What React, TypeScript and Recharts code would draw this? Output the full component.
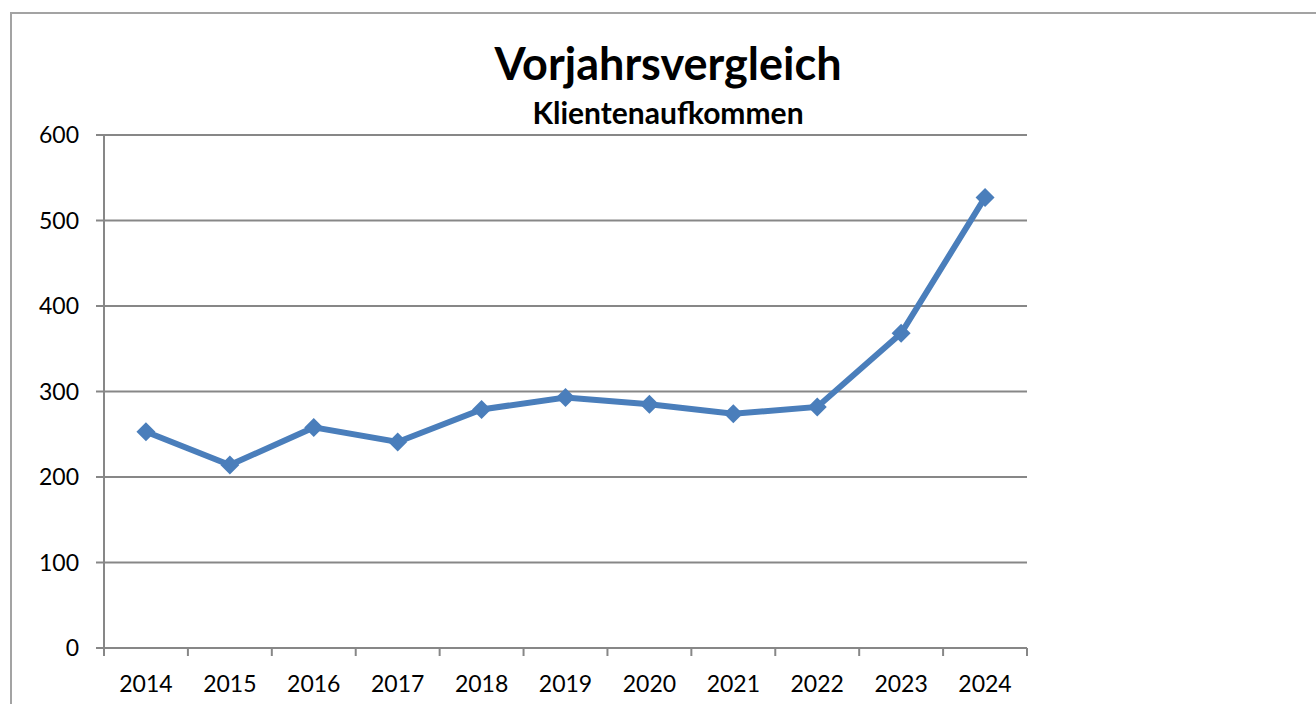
import { CartesianGrid, Line, LineChart, XAxis, YAxis } from "recharts";

const years = ["2014", "2015", "2016", "2017", "2018", "2019", "2020", "2021", "2022", "2023", "2024"];
const clients = [253, 214, 258, 241, 279, 293, 285, 274, 282, 368, 527];
const yTicks = [0, 100, 200, 300, 400, 500, 600];

const data = years.map((year, i) => ({ year, clients: clients[i] }));

const W = 1316;
const H = 704;
const MARGIN = { top: 135, right: 289, bottom: 0, left: 0 };
const Y_AXIS_W = 104;
const X_AXIS_H = 56;
const PLOT_W = W - MARGIN.left - MARGIN.right - Y_AXIS_W;
const BAND = PLOT_W / years.length;

const FONT = "Lato, 'Open Sans', sans-serif";
const GRID = "#878787";
const BLUE = "#4a7ebb";

function Diamond({ cx, cy }: any) {
  if (cx == null || cy == null) return null;
  const r = 9.5;
  return (
    <path
      d={`M${cx},${cy - r} L${cx + r},${cy} L${cx},${cy + r} L${cx - r},${cy} Z`}
      fill={BLUE}
      stroke="none"
    />
  );
}

function YearTick({ x, y, payload, index }: any) {
  const left = x - BAND / 2;
  const right = x + BAND / 2;
  return (
    <g>
      <line x1={left} x2={left} y1={y} y2={y + 8} stroke={GRID} strokeWidth={2} />
      {index === years.length - 1 && (
        <line x1={right} x2={right} y1={y} y2={y + 8} stroke={GRID} strokeWidth={2} />
      )}
      <text x={x} y={y + 44} textAnchor="middle" fill="#000" fontSize={23} fontFamily={FONT}>
        {payload.value}
      </text>
    </g>
  );
}

export default function App() {
  return (
    <div style={{ position: "absolute", left: 0, top: 0, width: W, height: H, overflow: "hidden", background: "#fff" }}>
      <div
        style={{
          position: "absolute",
          left: 10,
          top: 12,
          right: 0,
          bottom: 0,
          borderLeft: "2px solid #a3a3a3",
          borderTop: "2px solid #a3a3a3",
        }}
      />
      <div
        style={{
          position: "absolute",
          left: 0,
          width: 1336,
          top: 41,
          textAlign: "center",
          fontFamily: FONT,
          fontWeight: 700,
          fontSize: 45,
          lineHeight: "45px",
          color: "#000",
        }}
      >
        Vorjahrsvergleich
      </div>
      <div
        style={{
          position: "absolute",
          left: 0,
          width: 1336,
          top: 97,
          textAlign: "center",
          fontFamily: FONT,
          fontWeight: 700,
          fontSize: 30,
          lineHeight: "30px",
          color: "#000",
        }}
      >
        Klientenaufkommen
      </div>
      <div style={{ position: "absolute", left: 0, top: 0 }}>
        <LineChart width={W} height={H} data={data} margin={MARGIN}>
          <CartesianGrid vertical={false} stroke={GRID} strokeWidth={2} />
          <XAxis
            dataKey="year"
            height={X_AXIS_H}
            padding={{ left: BAND / 2, right: BAND / 2 }}
            axisLine={{ stroke: GRID, strokeWidth: 2 }}
            tickLine={false}
            tickSize={0}
            tickMargin={0}
            interval={0}
            tick={<YearTick />}
          />
          <YAxis
            domain={[0, 600]}
            ticks={yTicks}
            width={Y_AXIS_W}
            axisLine={{ stroke: GRID, strokeWidth: 2 }}
            tickLine={{ stroke: GRID, strokeWidth: 2 }}
            tickSize={8}
            tickMargin={17}
            tick={{ fill: "#000", fontSize: 23, fontFamily: FONT }}
          />
          <Line
            type="linear"
            dataKey="clients"
            stroke={BLUE}
            strokeWidth={6}
            dot={<Diamond />}
            activeDot={false}
            isAnimationActive={false}
          />
        </LineChart>
      </div>
    </div>
  );
}
